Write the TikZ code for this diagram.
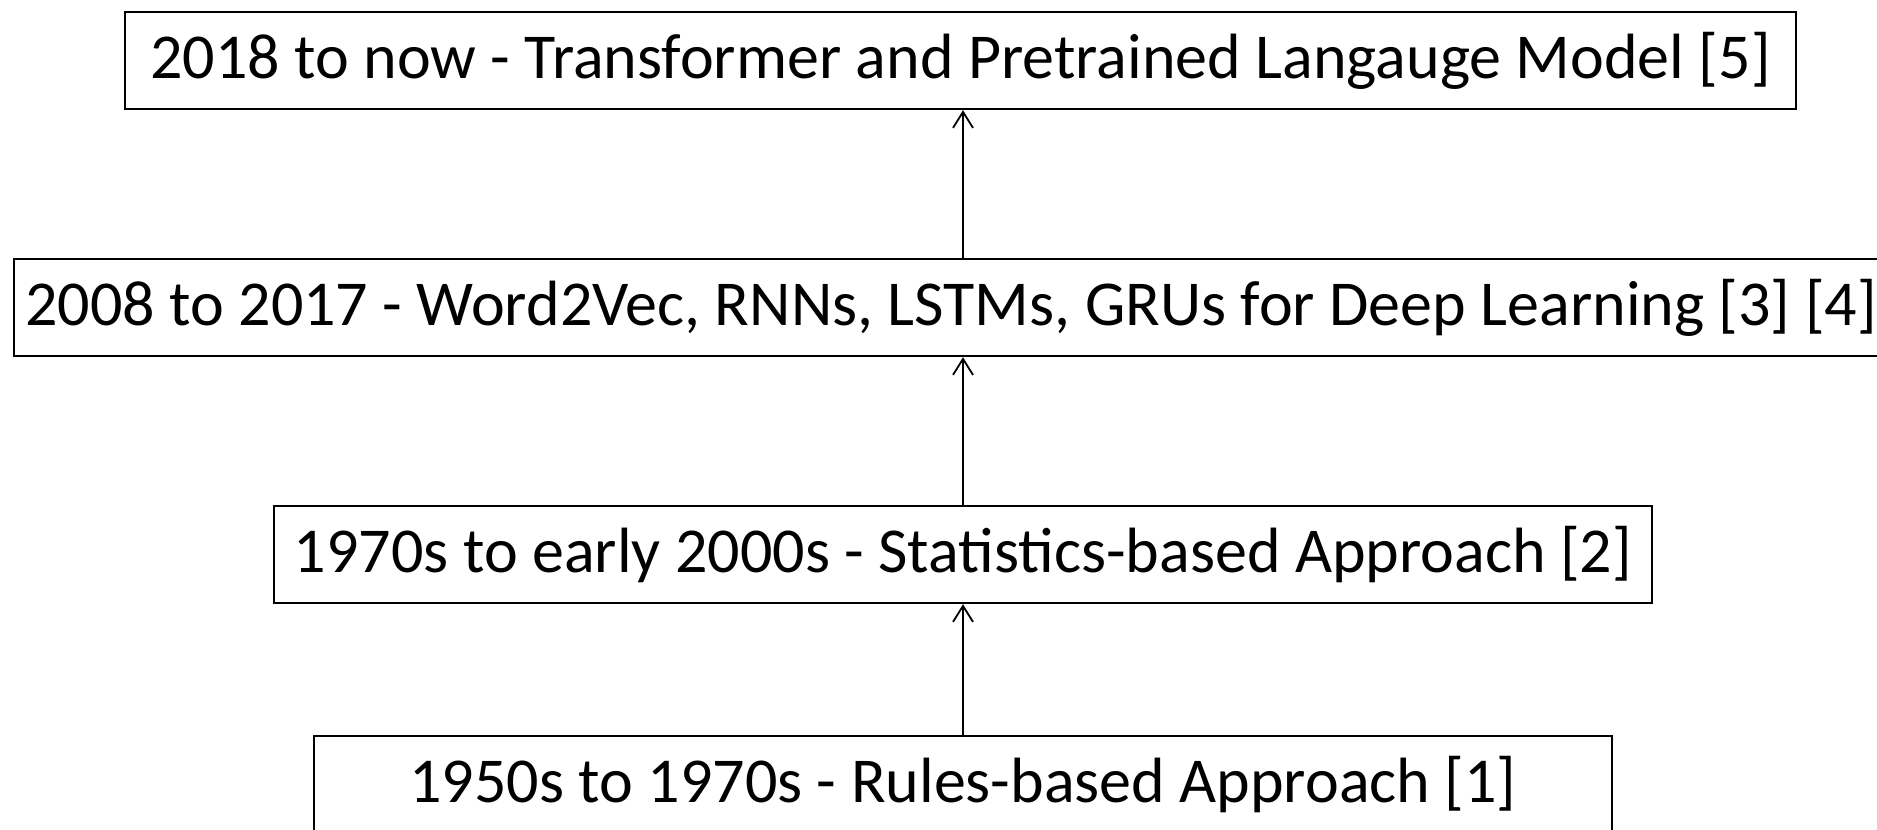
\documentclass[tikz,border=0pt]{standalone}
\usepackage{fontspec}
\setmainfont{Carlito}
\usetikzlibrary{arrows.meta}
\begin{document}
\begin{tikzpicture}[x=0.5pt,y=-0.5pt,
  era/.style={draw=black,line width=1.2pt,inner sep=0pt,minimum height=48.5pt,
    font=\fontsize{32}{38}\selectfont},
  link/.style={line width=0.9pt,-{Straight Barb[length=8pt,width=10pt,line width=0.9pt]}}]
\clip (0,0) rectangle (1877,829);
\useasboundingbox (0,0) rectangle (1877,829);
\node[era,minimum width=835.5pt] (e5) at (960.5,60.5) {2018 to now - Transformer and Pretrained Langauge Model [5]};
\node[era,minimum width=937pt] (e3) at (951,307.5) {2008 to 2017 - Word2Vec, RNNs, LSTMs, GRUs for Deep Learning [3] [4]};
\node[era,minimum width=689pt] (e2) at (963,554.5) {1970s to early 2000s - Statistics-based Approach [2]};
\node[era,minimum width=649pt] (e1) at (963,784.5) {1950s to 1970s - Rules-based Approach [1]};
\draw[link] (e1.north) -- (e2.south);
\draw[link] (e2.north) -- (e2.north |- e3.south);
\draw[link] (e2.north |- e3.north) -- (e2.north |- e5.south);
\end{tikzpicture}
\end{document}
